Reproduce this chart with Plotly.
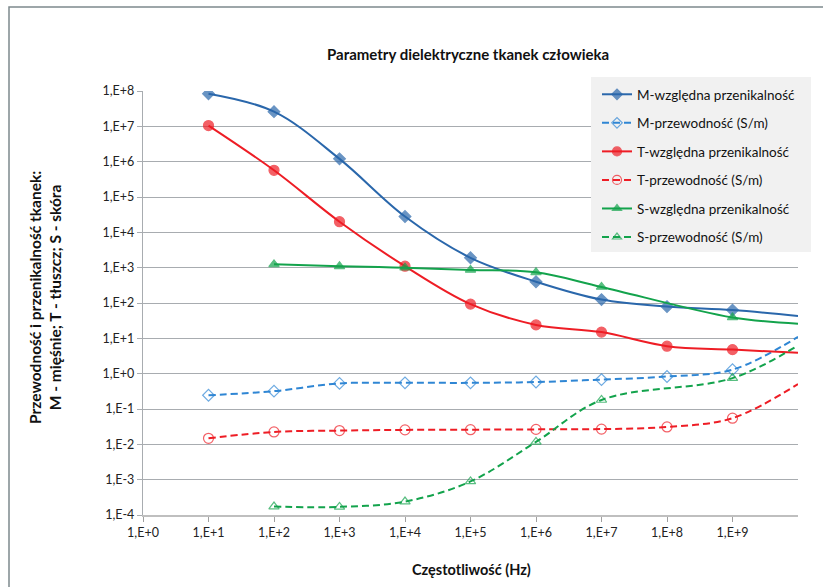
import plotly.graph_objects as go

# ---- data ----
freq = [1e1, 1e2, 1e3, 1e4, 1e5, 1e6, 1e7, 1e8, 1e9, 1e10]
M_eps = [8.4e7, 2.6e7, 1.2e6, 2.8e4, 1.9e3, 400, 125, 79, 63, 43]
M_sig = [0.245, 0.32, 0.53, 0.55, 0.55, 0.58, 0.68, 0.83, 1.3, 11]
T_eps = [1.05e7, 5.7e5, 2.0e4, 1.1e3, 93, 24, 15, 6.0, 4.8, 3.9]
T_sig = [0.0148, 0.0224, 0.0245, 0.0256, 0.026, 0.0265, 0.027, 0.031, 0.055, 0.51]
S_eps = [None, 1240, 1090, 1000, 860, 740, 285, None, 39, 26]
S_sig = [None, 1.73e-4, 1.7e-4, 2.4e-4, 8.9e-4, 0.0117, 0.18, None, 0.75, 6.3]

x_tickvals = [1e0, 1e1, 1e2, 1e3, 1e4, 1e5, 1e6, 1e7, 1e8, 1e9]
x_ticktext = ["1,E+0", "1,E+1", "1,E+2", "1,E+3", "1,E+4", "1,E+5", "1,E+6", "1,E+7", "1,E+8", "1,E+9"]
y_tickvals = [1e-4, 1e-3, 1e-2, 1e-1, 1e0, 1e1, 1e2, 1e3, 1e4, 1e5, 1e6, 1e7, 1e8]
y_ticktext = ["1,E-4", "1,E-3", "1,E-2", "1,E-1", "1,E+0", "1,E+1", "1,E+2", "1,E+3",
              "1,E+4", "1,E+5", "1,E+6", "1,E+7", "1,E+8"]

FONT = "Lato, 'Open Sans', sans-serif"

series = [
    ("M-względna przenikalność", M_eps, "#2a67ab", "diamond", None, 9),
    ("M-przewodność (S/m)", M_sig, "#2f86d4", "diamond-open", "7px,4px", 9),
    ("T-względna przenikalność", T_eps, "#ee1d25", "circle", None, 10),
    ("T-przewodność (S/m)", T_sig, "#ee1d25", "circle-open", "7px,4px", 10),
    ("S-względna przenikalność", S_eps, "#13a34c", "triangle-up", None, 9),
    ("S-przewodność (S/m)", S_sig, "#13a34c", "triangle-up-open", "7px,4px", 9),
]

fig = go.Figure()
for i, (name, vals, color, sym, dash, msize) in enumerate(series):
    xs = [f for f, v in zip(freq, vals) if v is not None]
    ys = [v for v in vals if v is not None]
    sizes = [msize] * (len(xs) - 1) + [0]
    fig.add_trace(go.Scatter(
        x=xs, y=ys, name=name, mode="lines+markers",
        legendgroup=f"g{i}",
        line=dict(color=color, width=2, dash=dash, shape="spline", smoothing=1),
        marker=dict(symbol=sym, size=sizes, color=color,
                    line=dict(color=color, width=1.2)),
    ))

L, R, T, B = 143, 798, 91, 515
W, H = 823, 587
pw, ph = R - L, B - T

def px(x):
    return (x - L) / pw

def py(y):
    return (B - y) / ph

fig.update_layout(
    width=W, height=H,
    margin=dict(l=L, r=W - R, t=T, b=H - B),
    paper_bgcolor="white", plot_bgcolor="white",
    font=dict(family=FONT, size=12, color="#222222"),
    showlegend=True,
    legend=dict(
        x=px(597), y=py(79), xanchor="left", yanchor="top",
        bgcolor="rgba(0,0,0,0)", borderwidth=0,
        font=dict(family=FONT, size=13.5, color="#111111"),
        tracegroupgap=8, traceorder="grouped",
    ),
    xaxis=dict(
        type="log", range=[0, 10],
        tickvals=x_tickvals, ticktext=x_ticktext,
        showgrid=False, showline=True, linecolor="#bfbfbf", linewidth=1.5,
        ticks="outside", ticklen=5, tickcolor="#a0a0a0",
        tickfont=dict(family=FONT, size=12.5, color="#222222"),
        zeroline=False,
    ),
    yaxis=dict(
        type="log", range=[-4, 8],
        tickvals=y_tickvals, ticktext=y_ticktext,
        showgrid=True, gridcolor="#a8acb0", gridwidth=1.3,
        showline=True, linecolor="#a8acb0", linewidth=1.3,
        ticks="outside", ticklen=5, tickcolor="#a8acb0",
        tickfont=dict(family=FONT, size=12.5, color="#222222"),
        zeroline=False,
    ),
    annotations=[
        dict(text="<b>Parametry dielektryczne tkanek człowieka</b>",
             xref="paper", yref="paper", x=px(468), y=py(54),
             showarrow=False, font=dict(family=FONT, size=15, color="#111111"),
             xanchor="center", yanchor="middle"),
        dict(text="<b>Przewodność i przenikalność tkanek:<br>M - mięśnie; T - tłuszcz; S - skóra</b>",
             xref="paper", yref="paper", x=px(45), y=py(298),
             showarrow=False, textangle=-90,
             font=dict(family=FONT, size=15.5, color="#111111"),
             xanchor="center", yanchor="middle"),
        dict(text="<b>Częstotliwość (Hz)</b>",
             xref="paper", yref="paper", x=px(471), y=py(569),
             showarrow=False, font=dict(family=FONT, size=14.5, color="#111111"),
             xanchor="center", yanchor="middle"),
    ],
    shapes=[
        dict(type="rect", xref="paper", yref="paper",
             x0=px(9), x1=px(840), y0=py(610), y1=py(7),
             line=dict(color="#7d898d", width=1.5), layer="below"),
        dict(type="rect", xref="paper", yref="paper",
             x0=px(591), x1=px(811), y0=py(252), y1=py(77),
             fillcolor="#f1f1f1", line=dict(width=0), layer="above"),
    ],
)

fig.write_html("out.html", config={"displayModeBar": False},
               post_script="document.body.style.margin='0px';")
